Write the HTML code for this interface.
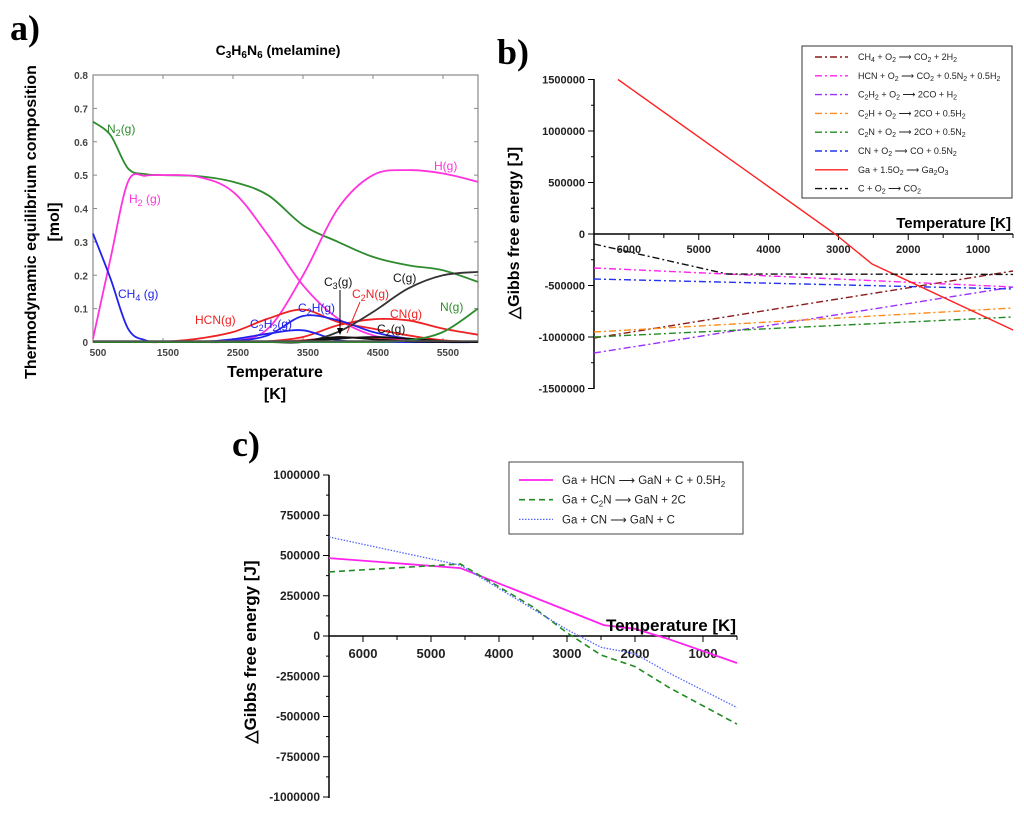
<!DOCTYPE html>
<html><head><meta charset="utf-8"><style>
html,body{margin:0;padding:0;background:#fff}
svg{display:block;font-family:"Liberation Sans",sans-serif}
</style></head><body>
<svg id="fig" width="1024" height="813" viewBox="0 0 1024 813" xmlns="http://www.w3.org/2000/svg">
<g id="pa"></g>
<g id="pb"></g>
<g id="pc"></g>
</svg>
<script>
// ---------- Panel a data ----------
const aTemps = [500,750,1000,1250,1500,2000,2500,3000,3500,4000,4500,5000,5500,6000];
const aN2  = [0.66,0.62,0.52,0.503,0.5,0.497,0.48,0.44,0.35,0.3,0.255,0.23,0.215,0.18];
const aH2  = [0.01,0.25,0.48,0.498,0.5,0.495,0.45,0.32,0.17,0.07,0.02,0.005,0.001,0];
const aH   = [0,0,0,0,0,0,0.003,0.04,0.2,0.4,0.5,0.515,0.505,0.48];
const aCH4 = [0.325,0.19,0.04,0.005,0,0,0,0,0,0,0,0,0,0];
const aHCN = [0,0,0,0,0,0.01,0.03,0.07,0.097,0.06,0.04,0.02,0.005,0];
const aCN  = [0,0,0,0,0,0,0,0.002,0.015,0.05,0.068,0.065,0.04,0.022];
const aC2N = [0,0,0,0,0,0,0,0,0.005,0.014,0.01,0.003,0,0];
const aC2H = [0,0,0,0,0,0,0.003,0.02,0.078,0.065,0.03,0.01,0,0];
const aC2H2= [0,0,0,0,0,0,0.008,0.025,0.035,0.005,0,0,0,0];
const aC   = [0,0,0,0,0,0,0,0,0,0.03,0.09,0.16,0.2,0.21];
const aC3  = [0,0,0,0,0,0,0,0,0.003,0.015,0.008,0.002,0,0];
const aC2  = [0,0,0,0,0,0,0,0,0.002,0.01,0.015,0.01,0.003,0];
const aN   = [0,0,0,0,0,0,0,0,0,0,0,0.005,0.03,0.1];
const aYTicks = [0,0.1,0.2,0.3,0.4,0.5,0.6,0.7,0.8];
const aXTicks = [500,1500,2500,3500,4500,5500];

// ---------- Panel b data ----------
const bYTicks = [1500000,1000000,500000,0,-500000,-1000000,-1500000];
const bXTicks = [6000,5000,4000,3000,2000,1000];
const bGaT = [6156,3047,2517,500];
const bGaV = [1500000,0,-291000,-932000];
const bCT  = [6500,4595,500];
const bCV  = [-97000,-388000,-392000];
const bLinT = [6500,500];
const bHCN = [-330000,-515000];
const bCN  = [-437000,-534000];
const bCH4 = [-1010000,-359000];
const bC2H2= [-1155000,-515000];
const bC2H = [-951000,-718000];
const bC2N = [-1000000,-806000];

// ---------- Panel c data ----------
const cYTicks = [1000000,750000,500000,250000,0,-250000,-500000,-750000,-1000000];
const cXTicks = [6000,5000,4000,3000,2000,1000];
const cHcnT = [6500,4568,2459,2000,1500,500];
const cHcnV = [484000,422000,68000,45000,-20000,-168000];
const cC2nT = [6500,4568,3500,3000,2500,2000,1500,500];
const cC2nV = [398000,447000,180000,20000,-118000,-190000,-320000,-547000];
const cCnT  = [6500,4568,3000,2500,2000,1500,500];
const cCnV  = [615000,440000,40000,-70000,-110000,-230000,-445000];

const NS="http://www.w3.org/2000/svg";
function el(parent,tag,attrs,text){const e=document.createElementNS(NS,tag);for(const k in attrs)e.setAttribute(k,attrs[k]);if(text!==undefined)e.textContent=text;parent.appendChild(e);return e;}
function lin(d0,d1,r0,r1){return v=>r0+(v-d0)/(d1-d0)*(r1-r0);}
function pathD(xs,ys,fx,fy){return xs.map((t,i)=>(i?'L':'M')+fx(t).toFixed(1)+','+fy(ys[i]).toFixed(1)).join(' ');}
function smoothD(xs,ys,fx,fy){const p=xs.map((t,i)=>[fx(t),fy(ys[i])]);let d='M'+p[0][0]+','+p[0][1];for(let i=0;i<p.length-1;i++){const p0=p[i-1]||p[i],p1=p[i],p2=p[i+1],p3=p[i+2]||p2;const c1=[p1[0]+(p2[0]-p0[0])/6,p1[1]+(p2[1]-p0[1])/6],c2=[p2[0]-(p3[0]-p1[0])/6,p2[1]-(p3[1]-p1[1])/6];d+=' C'+c1[0].toFixed(1)+','+c1[1].toFixed(1)+' '+c2[0].toFixed(1)+','+c2[1].toFixed(1)+' '+p2[0].toFixed(1)+','+p2[1].toFixed(1);}return d;}

// ===== Panel a =====
const A=document.getElementById('pa');
const ax=lin(500,6000,93,478), ay=lin(0,0.8,342,75);
let t;
t=el(A,'text',{x:10,y:40,'font-family':'Liberation Serif,serif','font-size':36,'font-weight':'bold'},'a)');

t=el(A,'text',{x:278,y:55,'text-anchor':'middle','font-size':14,'font-weight':'bold'});

t.innerHTML='C<tspan font-size="10" dy="3">3</tspan><tspan dy="-3">H</tspan><tspan font-size="10" dy="3">6</tspan><tspan dy="-3">N</tspan><tspan font-size="10" dy="3">6</tspan><tspan dy="-3"> (melamine)</tspan>';
let fr=el(A,'rect',{x:93,y:75,width:385,height:267,fill:'none',stroke:'#888','stroke-width':1.2});

aYTicks.forEach(v=>{const y=ay(v);el(A,'line',{x1:93,x2:97,y1:y,y2:y,stroke:'#888'});el(A,'line',{x1:474,x2:478,y1:y,y2:y,stroke:'#888'});
 const l=el(A,'text',{x:88,y:y+4,'text-anchor':'end','font-size':10,'font-weight':'bold',fill:'#444'},v===0?'0':v.toFixed(1));
 });
aXTicks.forEach(v=>{const x=ax(v);el(A,'line',{x1:x,x2:x,y1:342,y2:338,stroke:'#888'});el(A,'line',{x1:x,x2:x,y1:75,y2:79,stroke:'#888'});
 const l=el(A,'text',{x:x+5,y:356,'text-anchor':'middle','font-size':10,'font-weight':'bold',fill:'#444'},String(v));
 });
t=el(A,'text',{x:275,y:377,'text-anchor':'middle','font-size':16,'font-weight':'bold'},'Temperature');

t=el(A,'text',{x:275,y:399,'text-anchor':'middle','font-size':16,'font-weight':'bold'},'[K]');

t=el(A,'text',{x:0,y:0,'text-anchor':'middle','font-size':16,'font-weight':'bold',transform:'translate(36,222) rotate(-90)'},'Thermodynamic equilibrium composition');

t=el(A,'text',{x:0,y:0,'text-anchor':'middle','font-size':16,'font-weight':'bold',transform:'translate(59,222) rotate(-90)'},'[mol]');

const aSeries=[['n2',aN2,'#2e8b2e'],['h2',aH2,'#ff33dd'],['h',aH,'#ff33dd'],['ch4',aCH4,'#2222ee'],['hcn',aHCN,'#ee2222'],['cn',aCN,'#ee2222'],['c2n',aC2N,'#ee2222'],['c2h',aC2H,'#2222ee'],['c2h2',aC2H2,'#2222ee'],['c',aC,'#333'],['c3',aC3,'#111'],['c2',aC2,'#111'],['n',aN,'#2e8b2e']];
aSeries.forEach(s=>{const p=el(A,'path',{d:smoothD(aTemps,s[1],ax,ay),fill:'none',stroke:s[2],'stroke-width':1.8});
 });
el(A,'line',{x1:93,x2:478,y1:341,y2:341,stroke:'#555','stroke-width':1.5});
const aLabels=[[107,133,'#2e8b2e','N<tspan font-size="9" dy="3">2</tspan><tspan dy="-3">(g)</tspan>','n2'],
[129,203,'#ff33dd','H<tspan font-size="9" dy="3">2</tspan><tspan dy="-3"> (g)</tspan>','h2'],
[434,170,'#ff33dd','H(g)','h'],[118,298,'#2222ee','CH<tspan font-size="9" dy="3">4</tspan><tspan dy="-3"> (g)</tspan>','ch4'],
[195,324,'#ee2222','HCN(g)','hcn'],[250,328,'#2222ee','C<tspan font-size="9" dy="3">2</tspan><tspan dy="-3">H</tspan><tspan font-size="9" dy="3">2</tspan><tspan dy="-3">(g)</tspan>','c2h2'],
[298,312,'#2222ee','C<tspan font-size="9" dy="3">2</tspan><tspan dy="-3">H(g)</tspan>','c2h'],[324,286,'#111','C<tspan font-size="9" dy="3">3</tspan><tspan dy="-3">(g)</tspan>','c3'],
[352,298,'#ee2222','C<tspan font-size="9" dy="3">2</tspan><tspan dy="-3">N(g)</tspan>','c2n'],[393,282,'#111','C(g)','c'],
[390,318,'#ee2222','CN(g)','cn'],[377,333,'#111','C<tspan font-size="9" dy="3">2</tspan><tspan dy="-3">(g)</tspan>','c2'],[440,311,'#2e8b2e','N(g)','n']];
aLabels.forEach(L=>{const e=el(A,'text',{x:L[0],y:L[1],'font-size':12,fill:L[2]});e.innerHTML=L[3];
 });
el(A,'line',{x1:340,y1:290,x2:340,y2:333,stroke:'#000','stroke-width':1});
el(A,'path',{d:'M337,328 L340,335 L343,328 Z',fill:'#000'});
el(A,'line',{x1:360,y1:302,x2:347,y2:333,stroke:'#ee2222','stroke-width':1});

// ===== Panel b =====
const B=document.getElementById('pb');
const bx=lin(6500,500,594,1013), by=lin(0,1000000,234,131);
t=el(B,'text',{x:497,y:64,'font-family':'Liberation Serif,serif','font-size':36,'font-weight':'bold'},'b)');

el(B,'line',{x1:594,x2:594,y1:79,y2:389,stroke:'#000','stroke-width':1.5});
el(B,'line',{x1:594,x2:1013,y1:234,y2:234,stroke:'#000','stroke-width':1.5});
bYTicks.forEach(v=>{const y=by(v);el(B,'line',{x1:588,x2:594,y1:y,y2:y,stroke:'#000'});
 const l=el(B,'text',{x:585,y:y+4,'text-anchor':'end','font-size':11,'font-weight':'bold',fill:'#222'},String(v));
 });
for(let v=1250000;v>-1500000;v-=500000){const y=by(v);el(B,'line',{x1:591,x2:594,y1:y,y2:y,stroke:'#000'});}
bXTicks.forEach(v=>{const x=bx(v);el(B,'line',{x1:x,x2:x,y1:234,y2:240,stroke:'#000'});
 const l=el(B,'text',{x:x,y:253,'text-anchor':'middle','font-size':11,'font-weight':'bold',fill:'#222'},String(v));
 
 const xm=bx(v-500);el(B,'line',{x1:xm,x2:xm,y1:234,y2:238,stroke:'#000'});});
t=el(B,'text',{x:1011,y:228,'text-anchor':'end','font-size':15,'font-weight':'bold'},'Temperature [K]');

t=el(B,'text',{x:0,y:0,'text-anchor':'middle','font-size':16,'font-weight':'bold',transform:'translate(519,233) rotate(-90)'},'△Gibbs free energy [J]');

const dd='7,3,2,3';
const bSeries=[['ch4',bLinT,bCH4,'#8b1a1a',dd],['hcn',bLinT,bHCN,'#ff22ee',dd],['c2h2',bLinT,bC2H2,'#9b30ff',dd],['c2h',bLinT,bC2H,'#ff8c1a',dd],['c2n',bLinT,bC2N,'#228b22',dd],['cn',bLinT,bCN,'#2233ee',dd],['ga',bGaT,bGaV,'#ff2020',''],['c',bCT,bCV,'#111',dd]];
bSeries.forEach(s=>{const p=el(B,'path',{d:pathD(s[1],s[2],bx,by),fill:'none',stroke:s[3],'stroke-width':1.4,'stroke-dasharray':s[4]||'none'});
 });
const bLeg=el(B,'g',{});
el(bLeg,'rect',{x:802,y:46,width:210,height:152,fill:'#fff',stroke:'#333','stroke-width':1});
const s9='font-size="7" dy="2"',u9='dy="-2"';
const bLegTxt=['CH<tspan '+s9+'>4</tspan><tspan '+u9+'> + O</tspan><tspan '+s9+'>2</tspan><tspan '+u9+'> ⟶ CO</tspan><tspan '+s9+'>2</tspan><tspan '+u9+'> + 2H</tspan><tspan '+s9+'>2</tspan>',
'HCN + O<tspan '+s9+'>2</tspan><tspan '+u9+'> ⟶ CO</tspan><tspan '+s9+'>2</tspan><tspan '+u9+'> + 0.5N</tspan><tspan '+s9+'>2</tspan><tspan '+u9+'> + 0.5H</tspan><tspan '+s9+'>2</tspan>',
'C<tspan '+s9+'>2</tspan><tspan '+u9+'>H</tspan><tspan '+s9+'>2</tspan><tspan '+u9+'> + O</tspan><tspan '+s9+'>2</tspan><tspan '+u9+'> ⟶ 2CO + H</tspan><tspan '+s9+'>2</tspan>',
'C<tspan '+s9+'>2</tspan><tspan '+u9+'>H + O</tspan><tspan '+s9+'>2</tspan><tspan '+u9+'> ⟶ 2CO + 0.5H</tspan><tspan '+s9+'>2</tspan>',
'C<tspan '+s9+'>2</tspan><tspan '+u9+'>N + O</tspan><tspan '+s9+'>2</tspan><tspan '+u9+'> ⟶ 2CO + 0.5N</tspan><tspan '+s9+'>2</tspan>',
'CN + O<tspan '+s9+'>2</tspan><tspan '+u9+'> ⟶ CO + 0.5N</tspan><tspan '+s9+'>2</tspan>',
'Ga + 1.5O<tspan '+s9+'>2</tspan><tspan '+u9+'> ⟶ Ga</tspan><tspan '+s9+'>2</tspan><tspan '+u9+'>O</tspan><tspan '+s9+'>3</tspan>',
'C + O<tspan '+s9+'>2</tspan><tspan '+u9+'> ⟶ CO</tspan><tspan '+s9+'>2</tspan>'];
bSeries.forEach((s,i)=>{const y=57+i*18.8;el(bLeg,'line',{x1:815,x2:848,y1:y,y2:y,stroke:s[3],'stroke-width':1.4,'stroke-dasharray':s[4]||'none'});
 const e=el(bLeg,'text',{x:858,y:y+3,'font-size':9,fill:'#222'});e.innerHTML=bLegTxt[i];
 });

// ===== Panel c =====
const C=document.getElementById('pc');
const cx=lin(6500,500,329,737), cy=lin(0,1000000,636,475);
t=el(C,'text',{x:232,y:456,'font-family':'Liberation Serif,serif','font-size':36,'font-weight':'bold'},'c)');

el(C,'line',{x1:329,x2:329,y1:475,y2:798,stroke:'#000','stroke-width':1.5});
el(C,'line',{x1:329,x2:737,y1:636,y2:636,stroke:'#000','stroke-width':1.5});
cYTicks.forEach(v=>{const y=cy(v);el(C,'line',{x1:323,x2:329,y1:y,y2:y,stroke:'#000'});
 const l=el(C,'text',{x:320,y:y+4,'text-anchor':'end','font-size':12,'font-weight':'bold',fill:'#222'},String(v));
 
 if(v>-1000000){const ym=cy(v-125000);el(C,'line',{x1:326,x2:329,y1:ym,y2:ym,stroke:'#000'});}});
cXTicks.forEach(v=>{const x=cx(v);el(C,'line',{x1:x,x2:x,y1:636,y2:642,stroke:'#000'});
 const l=el(C,'text',{x:x,y:658,'text-anchor':'middle','font-size':13,'font-weight':'bold',fill:'#222'},String(v));
 
 const xm=cx(v-500);el(C,'line',{x1:xm,x2:xm,y1:636,y2:640,stroke:'#000'});});
const cSeries=[['hcn',cHcnT,cHcnV,'#ff22ee','none',1.8],['c2n',cC2nT,cC2nV,'#228b22','6,4',1.6],['cn',cCnT,cCnV,'#5566ff','1.5,1.5',1.3]];
cSeries.forEach(s=>{const p=el(C,'path',{d:pathD(s[1],s[2],cx,cy),fill:'none',stroke:s[3],'stroke-width':s[5],'stroke-dasharray':s[4]});
 });
t=el(C,'text',{x:736,y:631,'text-anchor':'end','font-size':17,'font-weight':'bold'},'Temperature [K]');

t=el(C,'text',{x:0,y:0,'text-anchor':'middle','font-size':17,'font-weight':'bold',transform:'translate(256,652) rotate(-90)'},'△Gibbs free energy [J]');

const cLeg=el(C,'g',{});
el(cLeg,'rect',{x:509,y:462,width:234,height:72,fill:'#fff',stroke:'#444','stroke-width':1});
const s2='font-size="8" dy="3"',u2='dy="-3"';
const cLegTxt=['Ga + HCN  ⟶ GaN + C + 0.5H<tspan '+s2+'>2</tspan>','Ga + C<tspan '+s2+'>2</tspan><tspan '+u2+'>N  ⟶ GaN + 2C</tspan>','Ga + CN  ⟶ GaN + C'];
cSeries.forEach((s,i)=>{const y=480+i*19.7;el(cLeg,'line',{x1:519,x2:553,y1:y,y2:y,stroke:s[3],'stroke-width':s[5],'stroke-dasharray':s[4]});
 const e=el(cLeg,'text',{x:562,y:y+4,'font-size':11.5,fill:'#222'});e.innerHTML=cLegTxt[i];
 });
</script>
</body></html>
